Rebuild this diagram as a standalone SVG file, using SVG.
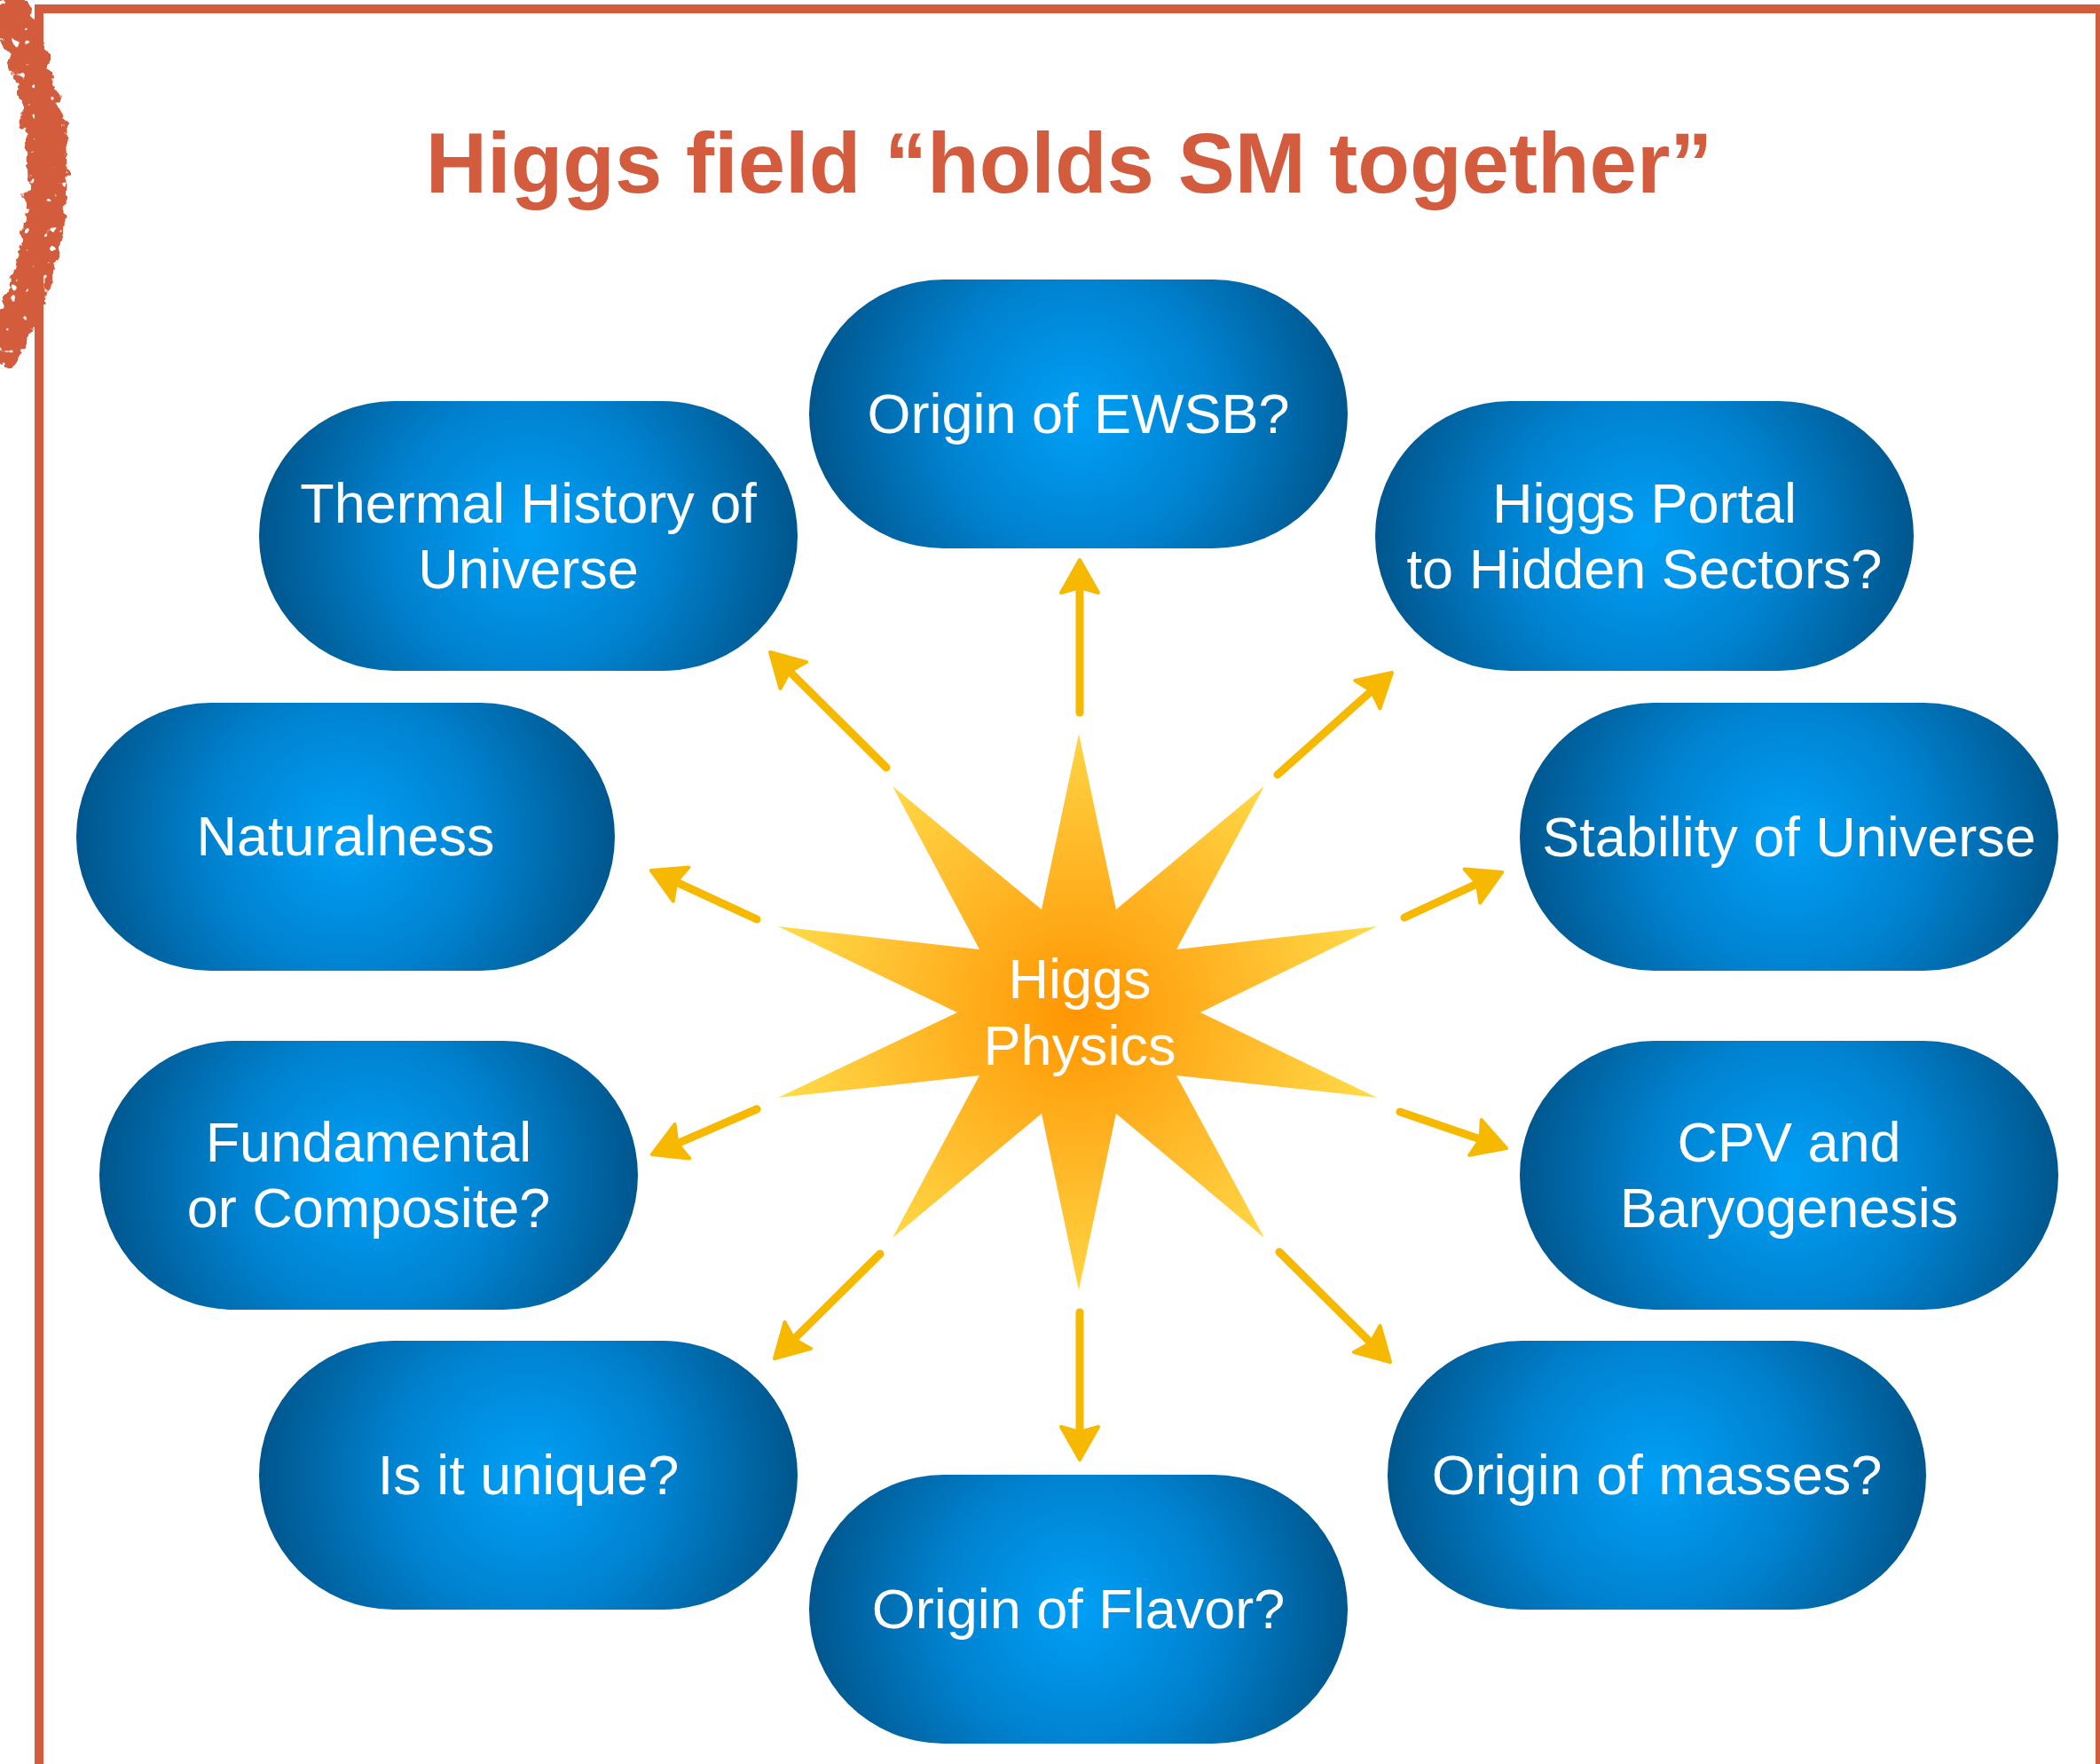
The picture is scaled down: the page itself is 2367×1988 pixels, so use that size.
<svg xmlns="http://www.w3.org/2000/svg" width="2367" height="1988" viewBox="0 0 2367 1988">
  <style>
    .title { font-family: "Liberation Sans", Arial, Helvetica, sans-serif; font-weight: bold; font-size: 96px; fill: #D35B3E; }
    .label { font-family: "Liberation Sans", Arial, Helvetica, sans-serif; font-size: 63px; fill: #FFFFFF; text-anchor: middle; }
    .pill { fill: url(#pillFill); }
    .link { stroke: #F6B900; stroke-width: 9; stroke-linecap: round; fill: none; marker-end: url(#head); }
  </style>
  <defs>
    <radialGradient id="pillFill" cx="0.5" cy="0.5" r="0.5" gradientTransform="translate(0.5,0.5) scale(1,2) translate(-0.5,-0.5)">
      <stop offset="0" stop-color="#00A0F7"/>
      <stop offset="0.5" stop-color="#0082D0"/>
      <stop offset="1" stop-color="#00568D"/>
    </radialGradient>
    <radialGradient id="starFill" gradientUnits="userSpaceOnUse" cx="1216" cy="1141" r="340">
      <stop offset="0" stop-color="#FF9500"/>
      <stop offset="0.55" stop-color="#FFBA2A"/>
      <stop offset="1" stop-color="#FFDA48"/>
    </radialGradient>
    <marker id="head" markerUnits="userSpaceOnUse" markerWidth="60" markerHeight="60" viewBox="-15 -30 50 60" refX="0" refY="0" orient="auto" overflow="visible">
      <path d="M30,0 L-7,-21 L-1,0 L-7,21 Z" fill="#F6B900" stroke="#F6B900" stroke-width="4" stroke-linejoin="round"/>
    </marker>
    <!-- dry-brush look: wobbly edges plus a few speckle holes -->
    <filter id="rough" x="-50%" y="-10%" width="200%" height="120%">
      <feTurbulence type="fractalNoise" baseFrequency="0.07" numOctaves="3" seed="4" result="noise"/>
      <feDisplacementMap in="SourceGraphic" in2="noise" scale="16" xChannelSelector="R" yChannelSelector="G" result="wobbly"/>
      <feTurbulence type="fractalNoise" baseFrequency="0.09" numOctaves="2" seed="9" result="grain"/>
      <feColorMatrix in="grain" type="matrix" values="0 0 0 0 0  0 0 0 0 0  0 0 0 0 0  16 0 0 0 -4.0" result="holes"/>
      <feComposite in="wobbly" in2="holes" operator="in"/>
    </filter>
  </defs>

  <rect width="2367" height="1988" fill="#FFFFFF"/>

  <!-- page frame and brush accent -->
  <rect x="44" y="10" width="2323" height="2100" fill="none" stroke="#D35B3E" stroke-width="10"/>
  <path d="M -5,-15 Q 112,200 -5,405" fill="none" stroke="#D35B3E" stroke-width="44" stroke-linecap="butt" filter="url(#rough)"/>

  <text class="title" x="1205" y="217" text-anchor="middle">Higgs field “holds SM together”</text>

  <!-- central star -->
  <g id="higgs-physics">
    <polygon fill="url(#starFill)" points="1216,827 1258,1025 1425,886 1326,1070 1552,1044 1353,1141 1552,1237 1326,1212 1425,1395 1258,1255 1216,1454 1174,1255 1006,1395 1104,1212 877,1237 1079,1141 877,1044 1104,1070 1006,886 1174,1025"/>
    <text class="label" x="1217" y="1125">Higgs</text>
    <text class="label" x="1217" y="1200">Physics</text>
  </g>

  <!-- arrows from the star to each question -->
  <g id="connectors">
    <line class="link" x1="1217" y1="803" x2="1217" y2="661"/>
    <line class="link" x1="999" y1="865" x2="889.3" y2="756.1"/>
    <line class="link" x1="1440" y1="873" x2="1546.6" y2="778"/>
    <line class="link" x1="853" y1="1036" x2="761.2" y2="993.6"/>
    <line class="link" x1="1583" y1="1034" x2="1665.8" y2="995.6"/>
    <line class="link" x1="853" y1="1250" x2="762.5" y2="1289.1"/>
    <line class="link" x1="1578" y1="1253" x2="1669.6" y2="1284.3"/>
    <line class="link" x1="992" y1="1413" x2="894.3" y2="1509.9"/>
    <line class="link" x1="1217" y1="1479" x2="1217" y2="1615"/>
    <line class="link" x1="1442" y1="1411" x2="1545.7" y2="1513.9"/>
  </g>

  <g id="origin-ewsb">
    <rect class="pill" x="912" y="315" width="607" height="303" rx="151.5"/>
    <text class="label" x="1215.5" y="488">Origin of EWSB?</text>
  </g>

  <g id="thermal-history">
    <rect class="pill" x="292" y="452" width="607" height="304" rx="152"/>
    <text class="label" x="595.5" y="589">Thermal History of</text>
    <text class="label" x="595.5" y="663">Universe</text>
  </g>

  <g id="higgs-portal">
    <rect class="pill" x="1550" y="452" width="607" height="304" rx="152"/>
    <text class="label" x="1853.5" y="589">Higgs Portal</text>
    <text class="label" x="1853.5" y="663">to Hidden Sectors?</text>
  </g>

  <g id="naturalness">
    <rect class="pill" x="86" y="792" width="607" height="302" rx="151"/>
    <text class="label" x="389.5" y="964">Naturalness</text>
  </g>

  <g id="stability">
    <rect class="pill" x="1713" y="792" width="607" height="302" rx="151"/>
    <text class="label" x="2016.5" y="965">Stability of Universe</text>
  </g>

  <g id="fundamental-composite">
    <rect class="pill" x="112" y="1173" width="607" height="303" rx="151.5"/>
    <text class="label" x="415.5" y="1309">Fundamental</text>
    <text class="label" x="415.5" y="1383">or Composite?</text>
  </g>

  <g id="cpv-baryogenesis">
    <rect class="pill" x="1713" y="1173" width="607" height="303" rx="151.5"/>
    <text class="label" x="2016.5" y="1309">CPV and</text>
    <text class="label" x="2016.5" y="1383">Baryogenesis</text>
  </g>

  <g id="unique">
    <rect class="pill" x="292" y="1511" width="607" height="303" rx="151.5"/>
    <text class="label" x="595.5" y="1684">Is it unique?</text>
  </g>

  <g id="origin-masses">
    <rect class="pill" x="1564" y="1511" width="607" height="303" rx="151.5"/>
    <text class="label" x="1867.5" y="1684">Origin of masses?</text>
  </g>

  <g id="origin-flavor">
    <rect class="pill" x="912" y="1662" width="607" height="303" rx="151.5"/>
    <text class="label" x="1215.5" y="1835">Origin of Flavor?</text>
  </g>
</svg>
